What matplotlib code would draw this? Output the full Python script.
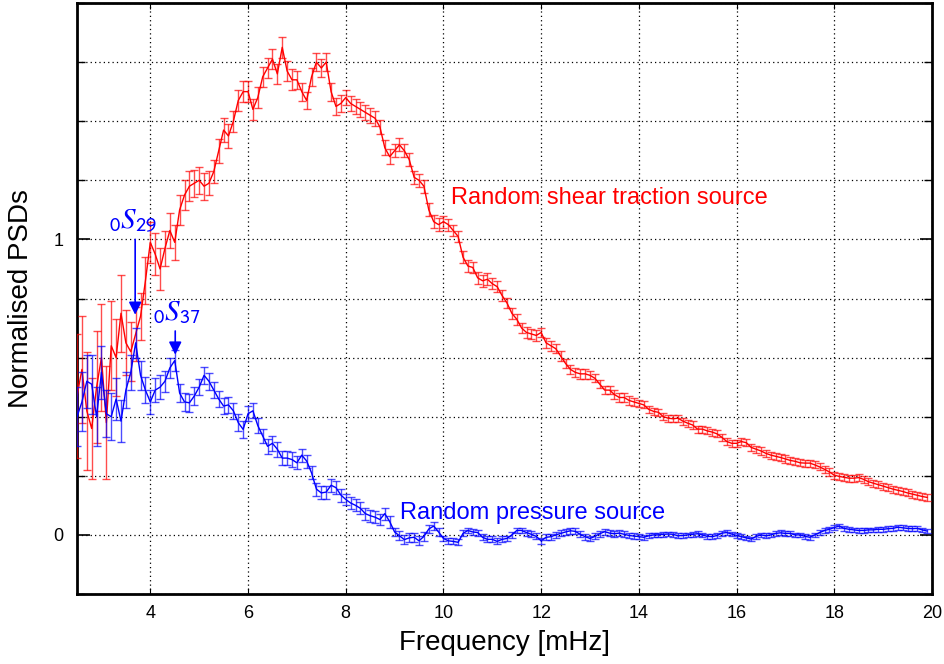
import numpy as np
import matplotlib
matplotlib.use("Agg")
import matplotlib.pyplot as plt
from matplotlib.ticker import MultipleLocator, FixedLocator

plt.rcParams['font.family'] = ['Liberation Sans', 'DejaVu Sans']
plt.rcParams['mathtext.fontset'] = 'stix'

# frequency grid of the spectra [mHz], one point every 0.1 mHz
freq = np.round(np.arange(2.5, 19.95, 0.1), 1)

# random shear traction source
psd_shear = [
    0.47, 0.56, 0.42, 0.36, 0.50,
    0.60, 0.38, 0.64, 0.60, 0.75, 0.65, 0.62, 0.68, 0.74, 0.86,
    0.99, 0.95, 0.90, 0.97, 1.03, 0.99, 1.10, 1.15, 1.18, 1.19,
    1.20, 1.18, 1.19, 1.23, 1.30, 1.37, 1.35, 1.40, 1.47, 1.50,
    1.50, 1.44, 1.48, 1.55, 1.58, 1.61, 1.56, 1.65, 1.57, 1.54,
    1.54, 1.50, 1.47, 1.55, 1.60, 1.58, 1.60, 1.50, 1.45, 1.46,
    1.48, 1.46, 1.45, 1.44, 1.43, 1.42, 1.41, 1.38, 1.31, 1.28,
    1.30, 1.32, 1.30, 1.27, 1.21, 1.20, 1.18, 1.10, 1.06, 1.05,
    1.06, 1.05, 1.03, 1.01, 0.94, 0.91, 0.905, 0.87, 0.86, 0.865,
    0.85, 0.84, 0.81, 0.785, 0.75, 0.73, 0.70, 0.685, 0.68, 0.675,
    0.685, 0.65, 0.64, 0.63, 0.605, 0.58, 0.56, 0.55, 0.545, 0.545,
    0.54, 0.53, 0.51, 0.49, 0.49, 0.475, 0.465, 0.465, 0.455, 0.45,
    0.445, 0.44, 0.425, 0.418, 0.415, 0.40, 0.395, 0.393, 0.395, 0.385,
    0.378, 0.372, 0.358, 0.358, 0.352, 0.348, 0.342, 0.33, 0.316, 0.31,
    0.31, 0.316, 0.312, 0.296, 0.29, 0.284, 0.276, 0.27, 0.266, 0.262,
    0.257, 0.252, 0.249, 0.244, 0.243, 0.243, 0.237, 0.23, 0.222, 0.213,
    0.202, 0.198, 0.195, 0.192, 0.192, 0.194, 0.188, 0.18, 0.175, 0.17,
    0.165, 0.16, 0.155, 0.151, 0.147, 0.142, 0.138, 0.134, 0.130, 0.127,
]
err_shear = (
    [0.21, 0.18, 0.20, 0.17, 0.19]
    + [0.18, 0.19, 0.15, 0.13, 0.13, 0.11, 0.10, 0.09, 0.08, 0.08]
    + [0.07, 0.07, 0.07, 0.06, 0.06, 0.06, 0.05, 0.05, 0.05, 0.045]
    + [0.045, 0.045, 0.04, 0.04, 0.04, 0.04, 0.04, 0.035, 0.035, 0.035]
    + [0.035] * 10 + [0.03] * 10 + [0.025] * 10 + [0.022] * 10
    + [0.02] * 10 + [0.018] * 10 + [0.016] * 10 + [0.014] * 10
    + [0.012] * 60
)

# random pressure source
psd_pressure = [
    0.40, 0.45, 0.52, 0.51, 0.40,
    0.55, 0.41, 0.40, 0.46, 0.385, 0.49, 0.55, 0.65, 0.54, 0.49,
    0.45, 0.49, 0.50, 0.52, 0.565, 0.59, 0.48, 0.45, 0.447, 0.47,
    0.50, 0.54, 0.52, 0.49, 0.46, 0.436, 0.44, 0.42, 0.38, 0.357,
    0.41, 0.42, 0.37, 0.335, 0.30, 0.31, 0.29, 0.26, 0.26, 0.255,
    0.244, 0.27, 0.25, 0.21, 0.155, 0.142, 0.145, 0.168, 0.16, 0.135,
    0.12, 0.108, 0.10, 0.09, 0.072, 0.065, 0.06, 0.052, 0.072, 0.045,
    0.01, -0.003, -0.016, -0.01, -0.008, -0.02, -0.005, 0.02, 0.03, 0.01,
    -0.012, -0.02, -0.022, -0.025, 0.005, 0.015, 0.01, 0.008, -0.008, -0.015,
    -0.015, -0.022, -0.015, -0.012, 0.0, 0.015, 0.015, 0.008, 0.002, -0.005,
    -0.02, -0.008, -0.006, 0.0, 0.005, 0.01, 0.014, 0.012, 0.002, -0.006,
    -0.012, -0.005, 0.004, 0.011, 0.006, 0.004, 0.006, 0.002, -0.002, -0.004,
    -0.006, -0.008, -0.003, 0.0, 0.0, 0.002, 0.003, 0.002, -0.003, -0.002,
    0.0, 0.002, 0.004, 0.0, -0.005, -0.006, -0.002, 0.006, 0.008, 0.003,
    -0.002, -0.006, -0.01, -0.014, -0.005, 0.0, -0.003, 0.0, 0.005, 0.007,
    0.005, 0.005, 0.0, 0.0, -0.005, -0.008, 0.0, 0.008, 0.015, 0.019,
    0.025, 0.03, 0.022, 0.019, 0.017, 0.015, 0.015, 0.017, 0.017, 0.019,
    0.019, 0.021, 0.022, 0.026, 0.024, 0.022, 0.021, 0.022, 0.017, 0.013,
]
err_pressure = (
    [0.10, 0.10, 0.09, 0.10, 0.10]
    + [0.09, 0.08, 0.08, 0.07, 0.07, 0.06, 0.06, 0.05, 0.05, 0.045]
    + [0.04, 0.04, 0.04, 0.035, 0.035, 0.035, 0.03, 0.03, 0.03, 0.03]
    + [0.028] * 10 + [0.025] * 10 + [0.022] * 10 + [0.02] * 10
    + [0.015] * 10 + [0.01] * 40 + [0.008] * 60
)

# mode labels: (text, frequency, arrow top, arrow tip)
modes = [
    (r'${}_{\mathsf{0}}S_{\mathsf{29}}$', 3.69, 1.00, 0.745),
    (r'${}_{\mathsf{0}}S_{\mathsf{37}}$', 4.51, 0.69, 0.61),
]

fig = plt.figure(figsize=(9.44, 6.64), dpi=100)
ax = fig.add_axes([0.0816, 0.1054, 0.9057, 0.8901])

ax.errorbar(freq, psd_shear, yerr=err_shear, color='#ff0000', lw=1.0,
            ecolor=(1, 0, 0, 0.7), elinewidth=1.0, capsize=3, capthick=1.0, zorder=3)
ax.errorbar(freq, psd_pressure, yerr=err_pressure, color='#0000ff', lw=1.0,
            ecolor=(0, 0, 1, 0.7), elinewidth=1.0, capsize=3, capthick=1.0, zorder=4)

for label, f, top, tip in modes:
    ax.annotate('', xy=(f, tip), xytext=(f, top),
                arrowprops=dict(arrowstyle='-|>', color='#0000ff', lw=1.2,
                                mutation_scale=19, shrinkA=0, shrinkB=0), zorder=5)
ax.text(3.64, 1.015, modes[0][0], color='#0000ff', fontsize=21, ha='center', va='bottom')
ax.text(4.55, 0.705, modes[1][0], color='#0000ff', fontsize=21, ha='center', va='bottom')

ax.text(10.15, 1.14, 'Random shear traction source', color='#ff0000', fontsize=17, va='center')
ax.text(9.12, 0.075, 'Random pressure source', color='#0000ff', fontsize=17, va='center')

ax.set_xlim(2.5, 20)
ax.set_ylim(-0.2, 1.8)
ax.xaxis.set_major_locator(FixedLocator(np.arange(4, 21, 2)))
ax.yaxis.set_major_locator(FixedLocator([0, 1]))
ax.yaxis.set_minor_locator(MultipleLocator(0.2))

ax.tick_params(axis='both', which='both', direction='in', top=True, right=True)
ax.tick_params(axis='y', which='major', length=9, width=1.2, labelsize=13, pad=10)
ax.tick_params(axis='y', which='minor', length=6, width=1.0)
ax.tick_params(axis='x', which='major', length=4, width=0.8, labelsize=13, pad=8)

ax.grid(True, which='major', axis='x', color='black', lw=0.9, ls=(0, (1, 2.5)))
ax.grid(True, which='both', axis='y', color='black', lw=0.9, ls=(0, (1, 2.5)))

for sp in ax.spines.values():
    sp.set_linewidth(2.0)

ax.set_xlabel('Frequency [mHz]', fontsize=20, labelpad=6)
ax.set_ylabel('Normalised PSDs', fontsize=20, labelpad=14)

fig.savefig('out.png', dpi=100)
